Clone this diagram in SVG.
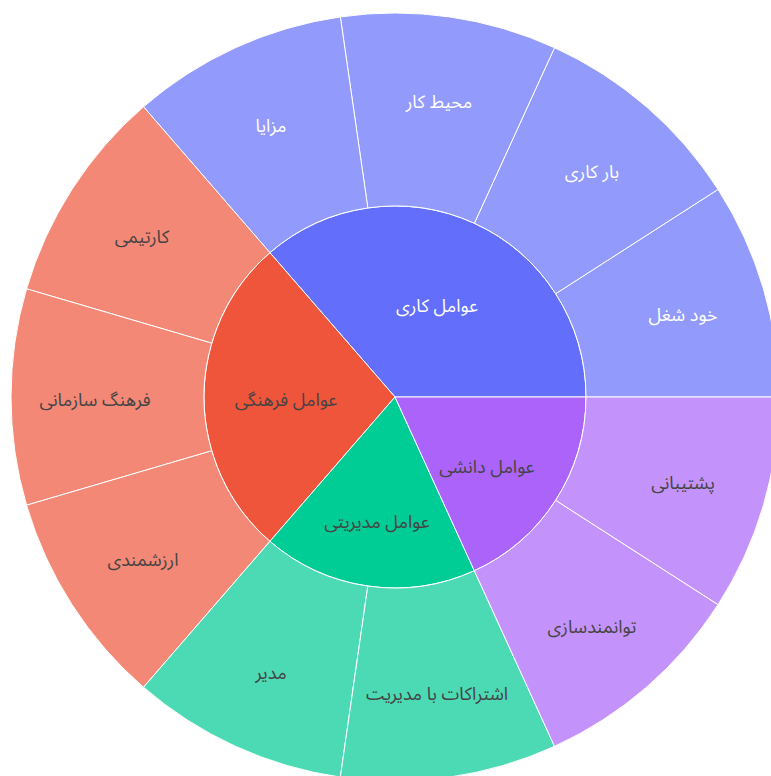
<svg xmlns="http://www.w3.org/2000/svg" width="771" height="776" viewBox="0 0 771 776">
<style>
.s{stroke:#fff;stroke-width:1}
.t{font-family:"Noto Sans Arabic","Noto Sans Arabic UI","Noto Naskh Arabic","DejaVu Sans",sans-serif;font-size:18px;text-anchor:middle;dominant-baseline:central}
.w{fill:#fff}
.d{fill:#444}
</style>
<rect width="771" height="776" fill="#fff"/>
<g id="inner">
<g id="n-kari"><path class="s" fill="#636efa" d="M395,397 L586,397 A191,191 0 0 0 269.92,252.65 Z"/><text class="t w" x="437" y="306">عوامل کاری</text></g>
<g id="n-farhangi"><path class="s" fill="#ef553b" d="M395,397 L269.92,252.65 A191,191 0 0 0 269.92,541.35 Z"/><text class="t d" x="286" y="400">عوامل فرهنگی</text></g>
<g id="n-modiriati"><path class="s" fill="#00cc96" d="M395,397 L269.92,541.35 A191,191 0 0 0 474.35,570.74 Z"/><text class="t d" x="377" y="522">عوامل مدیریتی</text></g>
<g id="n-daneshi"><path class="s" fill="#ab63fa" d="M395,397 L474.35,570.74 A191,191 0 0 0 586,397 Z"/><text class="t d" x="487" y="467">عوامل دانشی</text></g>
</g>
<g id="outer">
<g id="n-khodshoghl"><path class="s" fill="#929afb" d="M586,397 L779,397 A384,384 0 0 0 718.04,189.39 L555.68,293.74 A191,191 0 0 1 586,397 Z"/><text class="t w" x="683" y="315">خود شغل</text></g>
<g id="n-barkari"><path class="s" fill="#929afb" d="M555.68,293.74 L718.04,189.39 A384,384 0 0 0 554.52,47.70 L474.35,223.26 A191,191 0 0 1 555.68,293.74 Z"/><text class="t w" x="592" y="172">بار کاری</text></g>
<g id="n-mohitkar"><path class="s" fill="#929afb" d="M474.35,223.26 L554.52,47.70 A384,384 0 0 0 340.35,16.91 L367.82,207.94 A191,191 0 0 1 474.35,223.26 Z"/><text class="t w" x="439" y="102">محیط کار</text></g>
<g id="n-mazaya"><path class="s" fill="#929afb" d="M367.82,207.94 L340.35,16.91 A384,384 0 0 0 143.53,106.79 L269.92,252.65 A191,191 0 0 1 367.82,207.94 Z"/><text class="t w" x="271" y="126">مزایا</text></g>
<g id="n-kartimi"><path class="s" fill="#f48876" d="M269.92,252.65 L143.53,106.79 A384,384 0 0 0 26.56,288.82 L211.74,343.19 A191,191 0 0 1 269.92,252.65 Z"/><text class="t d" x="142" y="237">کارتیمی</text></g>
<g id="n-farhang"><path class="s" fill="#f48876" d="M211.74,343.19 L26.56,288.82 A384,384 0 0 0 26.56,505.18 L211.74,450.81 A191,191 0 0 1 211.74,343.19 Z"/><text class="t d" x="95" y="400">فرهنگ سازمانی</text></g>
<g id="n-arzesh"><path class="s" fill="#f48876" d="M211.74,450.81 L26.56,505.18 A384,384 0 0 0 143.53,687.21 L269.92,541.35 A191,191 0 0 1 211.74,450.81 Z"/><text class="t d" x="143" y="560">ارزشمندی</text></g>
<g id="n-modir"><path class="s" fill="#4cdab5" d="M269.92,541.35 L143.53,687.21 A384,384 0 0 0 340.35,777.09 L367.82,586.06 A191,191 0 0 1 269.92,541.35 Z"/><text class="t d" x="271" y="673">مدیر</text></g>
<g id="n-eshterak"><path class="s" fill="#4cdab5" d="M367.82,586.06 L340.35,777.09 A384,384 0 0 0 554.52,746.30 L474.35,570.74 A191,191 0 0 1 367.82,586.06 Z"/><text class="t d" x="437" y="694">اشتراکات با مدیریت</text></g>
<g id="n-tavanmand"><path class="s" fill="#c492fb" d="M474.35,570.74 L554.52,746.30 A384,384 0 0 0 718.04,604.61 L555.68,500.26 A191,191 0 0 1 474.35,570.74 Z"/><text class="t d" x="592" y="627">توانمندسازی</text></g>
<g id="n-poshtibani"><path class="s" fill="#c492fb" d="M555.68,500.26 L718.04,604.61 A384,384 0 0 0 779,397 L586,397 A191,191 0 0 1 555.68,500.26 Z"/><text class="t d" x="683" y="483">پشتیبانی</text></g>
</g>
</svg>
